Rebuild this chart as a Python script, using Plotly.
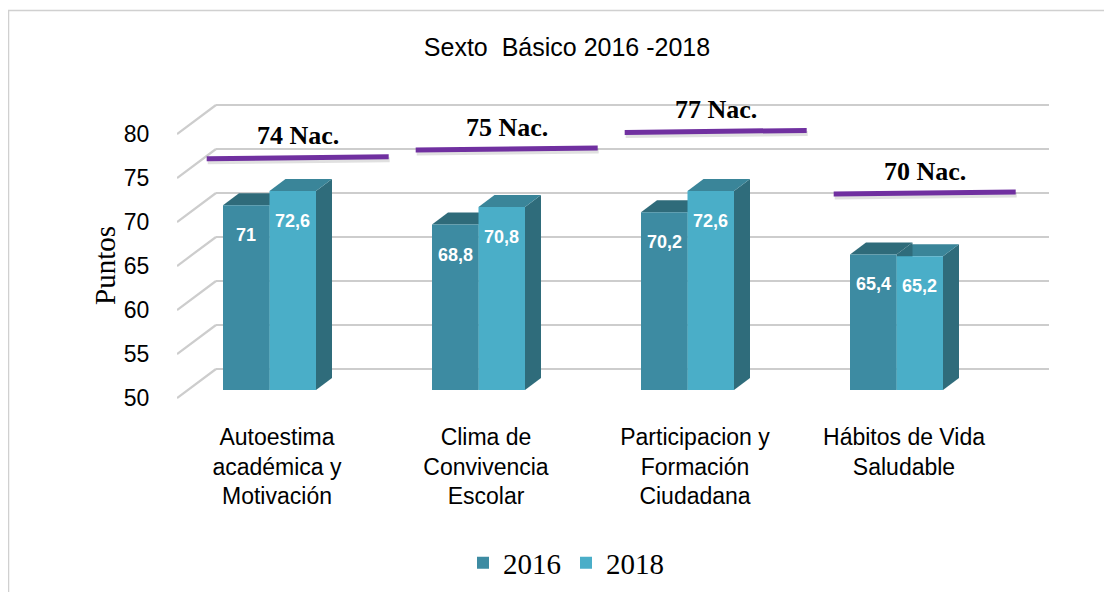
import plotly.graph_objects as go

# ---------------- data ----------------
categories = ["Autoestima<br>académica y<br>Motivación",
              "Clima de<br>Convivencia<br>Escolar",
              "Participacion y<br>Formación<br>Ciudadana",
              "Hábitos de Vida<br>Saludable"]
series_names = ["2016", "2018"]
values_2016 = [71, 68.8, 70.2, 65.4]
values_2018 = [72.6, 70.8, 72.6, 65.2]
national_values = [74, 75, 77, 70]
national_labels = ["74 Nac.", "75 Nac.", "77 Nac.", "70 Nac."]
y_tick_values = [50, 55, 60, 65, 70, 75, 80]
chart_title = "Sexto  Básico 2016 -2018"
y_title = "Puntos"

# ---------------- style / geometry (page pixels) ----------------
PAGE_W, PAGE_H = 1112, 592
BODY = 8                                   # default html body margin
W, H = PAGE_W - BODY, PAGE_H - BODY
PLOT_L, PLOT_R, PLOT_T, PLOT_B = 177, 1049, 95, 400   # plot area, page pixels
PLOT_WPX, PLOT_HPX = PLOT_R - PLOT_L, PLOT_B - PLOT_T
PX_PER_CAT = 209.0
PX_PER_PT = 8.8
CAT0_PX = 269.5
BASE = 50
BASE_PX = 390

x_range = [(PLOT_L - CAT0_PX) / PX_PER_CAT, (PLOT_R - CAT0_PX) / PX_PER_CAT]
y_range = [BASE - (PLOT_B - BASE_PX) / PX_PER_PT, BASE + (BASE_PX - PLOT_T) / PX_PER_PT]

def dx(px):
    return px / PX_PER_CAT

def dy(px):
    return px / PX_PER_PT

def paper_x(px):
    return (px - PLOT_L) / PLOT_WPX

def paper_y(py):
    return (PLOT_B - py) / PLOT_HPX

FRONT_DY = dy(-8)                          # bar plane -> front edge
BACK_DX, BACK_DY = dx(28.2), dy(21)        # bar plane -> back wall
WALL_DX = dx(39)                           # front edge -> back wall
BAR_DX, BAR_DY = dx(16), dy(12)            # bar depth
BARGAP = 0.555
BAR_W = (1 - BARGAP) / 2

front_colors = ["#3d8ba2", "#4aaec8"]
top_colors = ["#2f6b7a", "#3a8599"]
side_color = "#2f6c7b"
grid_color = "#cdcdcd"
nat_color = "#7030a0"
SANS = "Liberation Sans Narrow, Arial Narrow, Liberation Sans, Arial, sans-serif"
SERIF = "Liberation Serif, Times New Roman, serif"

fig = go.Figure()
series_values = [values_2016, values_2018]
for s, (name, vals) in enumerate(zip(series_names, series_values)):
    fig.add_trace(go.Bar(
        name=name,
        x=list(range(len(categories))),
        y=[v - BASE for v in vals],
        base=[BASE] * len(vals),
        marker=dict(color=front_colors[s], line=dict(width=0)),
        hoverinfo="skip",
    ))

shapes = []
back_left_x = x_range[0] + WALL_DX
for v in y_tick_values:
    shapes.append(dict(type="line", xref="x", yref="y", layer="below",
                       x0=back_left_x, x1=x_range[1], y0=v + BACK_DY, y1=v + BACK_DY,
                       line=dict(color=grid_color, width=2.2)))
    shapes.append(dict(type="line", xref="x", yref="y", layer="below",
                       x0=x_range[0], x1=back_left_x, y0=v + FRONT_DY, y1=v + BACK_DY,
                       line=dict(color=grid_color, width=2.2)))

def poly(points):
    return "M " + " L ".join(f"{px:.5f},{py:.5f}" for px, py in points) + " Z"

for i in range(len(categories)):
    for s in (1, 0):
        v = series_values[s][i]
        xc = i + (s - 0.5) * BAR_W
        xl, xr = xc - BAR_W / 2, xc + BAR_W / 2
        side = [(xr, BASE), (xr, v), (xr + BAR_DX, v + BAR_DY), (xr + BAR_DX, BASE + BAR_DY)]
        top = [(xl, v), (xr, v), (xr + BAR_DX, v + BAR_DY), (xl + BAR_DX, v + BAR_DY)]
        shapes.append(dict(type="path", xref="x", yref="y", layer="below", path=poly(side),
                           fillcolor=side_color, line=dict(width=0)))
        shapes.append(dict(type="path", xref="x", yref="y", layer="below", path=poly(top),
                           fillcolor=top_colors[s], line=dict(width=0)))

NAT_LEN = dx(182)
TILT = dy(1)
annotations = []
for i, (nv, lab) in enumerate(zip(national_values, national_labels)):
    xc = i + BACK_DX
    yc = nv + BACK_DY
    shapes.append(dict(type="line", xref="x", yref="y", layer="above",
                       x0=xc - NAT_LEN / 2 + dx(1), x1=xc + NAT_LEN / 2 + dx(1),
                       y0=yc - TILT - dy(3), y1=yc + TILT - dy(3),
                       line=dict(color="rgba(0,0,0,0.12)", width=5)))
    shapes.append(dict(type="line", xref="x", yref="y", layer="above",
                       x0=xc - NAT_LEN / 2, x1=xc + NAT_LEN / 2,
                       y0=yc - TILT, y1=yc + TILT,
                       line=dict(color=nat_color, width=5)))
    annotations.append(dict(xref="x", yref="y", x=xc, y=yc, yshift=22, text=lab,
                            showarrow=False,
                            font=dict(family=SERIF, size=26, color="black", weight="bold")))

for s, vals in enumerate(series_values):
    for i, v in enumerate(vals):
        annotations.append(dict(xref="x", yref="y", x=i + (s - 0.5) * BAR_W, y=v, yshift=-30,
                                text=f"{v:g}".replace(".", ","), showarrow=False,
                                font=dict(family=SANS, size=18, color="white", weight="bold")))

annotations.append(dict(xref="paper", yref="paper", x=paper_x(105), y=paper_y(266),
                        xanchor="center", yanchor="middle",
                        text=y_title, textangle=-90, showarrow=False,
                        font=dict(family=SERIF, size=29, color="black")))

shapes.append(dict(type="rect", xref="paper", yref="paper", layer="below",
                   x0=paper_x(8.5), x1=paper_x(1140), y0=paper_y(620), y1=paper_y(10.5),
                   line=dict(color="#d0d0d0", width=1.5), fillcolor="rgba(0,0,0,0)"))

fig.update_layout(
    width=W, height=H,
    margin=dict(l=PLOT_L - BODY, r=PAGE_W - PLOT_R, t=PLOT_T - BODY, b=PAGE_H - PLOT_B,
                pad=0, autoexpand=False),
    paper_bgcolor="white", plot_bgcolor="rgba(0,0,0,0)",
    barmode="group", bargap=BARGAP, bargroupgap=0,
    title=dict(text=chart_title, x=(567 - BODY) / W, xanchor="center",
               y=1 - (47 - BODY) / H, yanchor="middle", yref="container",
               font=dict(family=SANS, size=25, color="black")),
    xaxis=dict(range=x_range, tickvals=[i + dx(7.5) for i in range(len(categories))],
               ticktext=categories, showgrid=False, zeroline=False, showline=False,
               ticks="outside", ticklen=16, tickcolor="rgba(0,0,0,0)", automargin=False,
               tickfont=dict(family=SANS, size=23, color="black")),
    yaxis=dict(range=y_range, tickvals=[v + FRONT_DY for v in y_tick_values],
               ticktext=[str(v) for v in y_tick_values], showgrid=False, zeroline=False,
               showline=False, ticks="outside", ticklen=22, tickcolor="rgba(0,0,0,0)",
               automargin=False,
               tickfont=dict(family=SANS, size=23, color="black")),
    legend=dict(orientation="h", x=paper_x(566), xanchor="center",
                y=paper_y(563), yanchor="middle",
                font=dict(family=SERIF, size=29, color="black"), bgcolor="rgba(0,0,0,0)"),
    shapes=shapes,
    annotations=annotations,
    showlegend=True,
)

fig.write_html("out.html")
